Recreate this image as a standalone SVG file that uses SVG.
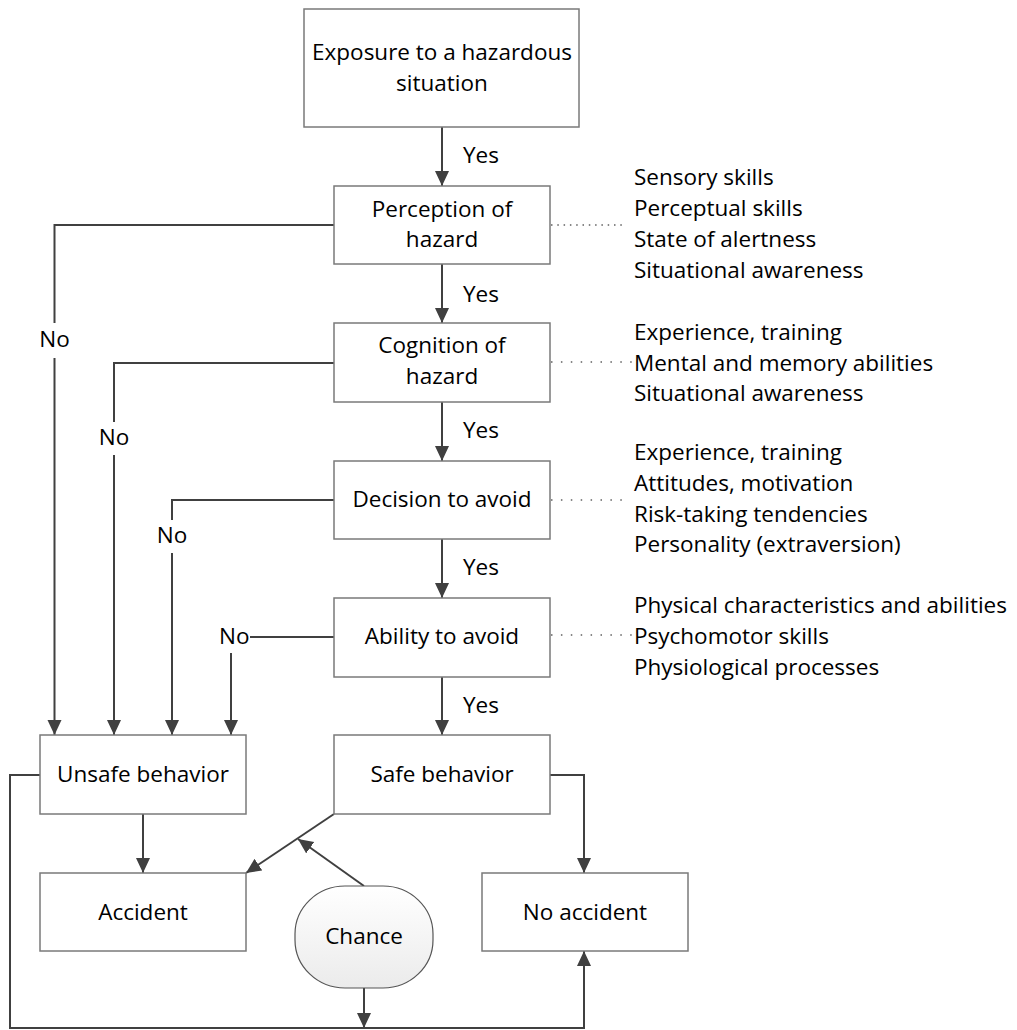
<svg xmlns="http://www.w3.org/2000/svg" width="1017" height="1030" viewBox="0 0 1017 1030">
  <style>
    text { font-family: "Open Sans", "Noto Sans", sans-serif; font-size: 22.5px; fill: #000; }
    .c { text-anchor: middle; }
    .box { fill: #fff; stroke: #7a7a7a; stroke-width: 1.5; }
    .edge { fill: none; stroke: #404040; stroke-width: 2; }
    .dot { fill: none; stroke: #606060; stroke-width: 1.5; }
  </style>
  <defs>
    <marker id="arrow" markerUnits="userSpaceOnUse" markerWidth="16" markerHeight="15" refX="15" refY="7" orient="auto">
      <path d="M0,0 L15,7 L0,14 z" fill="#404040"/>
    </marker>
    <linearGradient id="chanceFill" x1="0" y1="0" x2="0" y2="1">
      <stop offset="0" stop-color="#ffffff"/>
      <stop offset="1" stop-color="#ebebeb"/>
    </linearGradient>
  </defs>

  <rect width="1017" height="1030" fill="#fff"/>

  <!-- connectors -->
  <g id="connectors">
    <!-- main "Yes" chain -->
    <path class="edge" d="M442,127 V186" marker-end="url(#arrow)"/>
    <path class="edge" d="M442,264 V323" marker-end="url(#arrow)"/>
    <path class="edge" d="M442,402 V461" marker-end="url(#arrow)"/>
    <path class="edge" d="M442,539 V598" marker-end="url(#arrow)"/>
    <path class="edge" d="M442,677 V735" marker-end="url(#arrow)"/>
    <text x="463" y="163">Yes</text>
    <text x="463" y="302">Yes</text>
    <text x="463" y="438">Yes</text>
    <text x="463" y="575">Yes</text>
    <text x="463" y="713">Yes</text>

    <!-- "No" branches into unsafe behavior -->
    <path class="edge" d="M334,225 H54.5 V323"/>
    <path class="edge" d="M54.5,358 V735" marker-end="url(#arrow)"/>
    <text class="c" x="54.5" y="347">No</text>

    <path class="edge" d="M334,363 H114 V422"/>
    <path class="edge" d="M114,455 V735" marker-end="url(#arrow)"/>
    <text class="c" x="114" y="445">No</text>

    <path class="edge" d="M334,500 H172 V520"/>
    <path class="edge" d="M172,553 V735" marker-end="url(#arrow)"/>
    <text class="c" x="172" y="543">No</text>

    <path class="edge" d="M334,637 H250"/>
    <path class="edge" d="M231,653 V735" marker-end="url(#arrow)"/>
    <text x="219" y="644">No</text>

    <!-- outcomes -->
    <path class="edge" d="M143,814 V873" marker-end="url(#arrow)"/>
    <path class="edge" d="M334,814 L246,873" marker-end="url(#arrow)"/>
    <path class="edge" d="M364,886 L298,839" marker-end="url(#arrow)"/>
    <path class="edge" d="M550,775 H584 V873" marker-end="url(#arrow)"/>
    <path class="edge" d="M40,775 H10 V1028 H584 V951" marker-end="url(#arrow)"/>
    <path class="edge" d="M364,988 V1028" marker-end="url(#arrow)"/>

    <!-- dotted links to influencing factors -->
    <path class="dot" d="M551,225 H623" stroke-dasharray="1.5 4.8"/>
    <path class="dot" d="M551,362 H634" stroke-dasharray="1.5 8.4"/>
    <path class="dot" d="M551,500 H628" stroke-dasharray="1.5 8.4"/>
    <path class="dot" d="M551,635 H634" stroke-dasharray="1.5 8.4"/>
  </g>

  <!-- nodes -->
  <g id="exposure">
    <rect class="box" x="304" y="9" width="275" height="118"/>
    <text class="c" x="442" y="60">Exposure to a hazardous</text>
    <text class="c" x="442" y="91">situation</text>
  </g>
  <g id="perception">
    <rect class="box" x="334" y="186" width="216" height="78"/>
    <text class="c" x="442" y="217">Perception of</text>
    <text class="c" x="442" y="247">hazard</text>
  </g>
  <g id="cognition">
    <rect class="box" x="334" y="323" width="216" height="79"/>
    <text class="c" x="442" y="353">Cognition of</text>
    <text class="c" x="442" y="384">hazard</text>
  </g>
  <g id="decision">
    <rect class="box" x="334" y="461" width="216" height="78"/>
    <text class="c" x="442" y="507">Decision to avoid</text>
  </g>
  <g id="ability">
    <rect class="box" x="334" y="598" width="216" height="79"/>
    <text class="c" x="442" y="644">Ability to avoid</text>
  </g>
  <g id="unsafe-behavior">
    <rect class="box" x="40" y="735" width="206" height="79"/>
    <text class="c" x="143" y="782">Unsafe behavior</text>
  </g>
  <g id="safe-behavior">
    <rect class="box" x="334" y="735" width="216" height="79"/>
    <text class="c" x="442" y="782">Safe behavior</text>
  </g>
  <g id="accident">
    <rect class="box" x="40" y="873" width="206" height="78"/>
    <text class="c" x="143" y="920">Accident</text>
  </g>
  <g id="no-accident">
    <rect class="box" x="482" y="873" width="206" height="78"/>
    <text class="c" x="585" y="920">No accident</text>
  </g>
  <g id="chance">
    <rect x="295" y="886" width="138" height="102" rx="50" ry="48" fill="url(#chanceFill)" stroke="#555" stroke-width="1.2"/>
    <text class="c" x="364" y="944">Chance</text>
  </g>

  <!-- influencing factors -->
  <g id="perception-factors">
    <text x="634" y="185">Sensory skills</text>
    <text x="634" y="216">Perceptual skills</text>
    <text x="634" y="247">State of alertness</text>
    <text x="634" y="278">Situational awareness</text>
  </g>
  <g id="cognition-factors">
    <text x="634" y="340">Experience, training</text>
    <text x="634" y="371">Mental and memory abilities</text>
    <text x="634" y="401">Situational awareness</text>
  </g>
  <g id="decision-factors">
    <text x="634" y="460">Experience, training</text>
    <text x="634" y="491">Attitudes, motivation</text>
    <text x="634" y="522">Risk-taking tendencies</text>
    <text x="634" y="552">Personality (extraversion)</text>
  </g>
  <g id="ability-factors">
    <text x="634" y="613">Physical characteristics and abilities</text>
    <text x="634" y="644">Psychomotor skills</text>
    <text x="634" y="675">Physiological processes</text>
  </g>
</svg>
